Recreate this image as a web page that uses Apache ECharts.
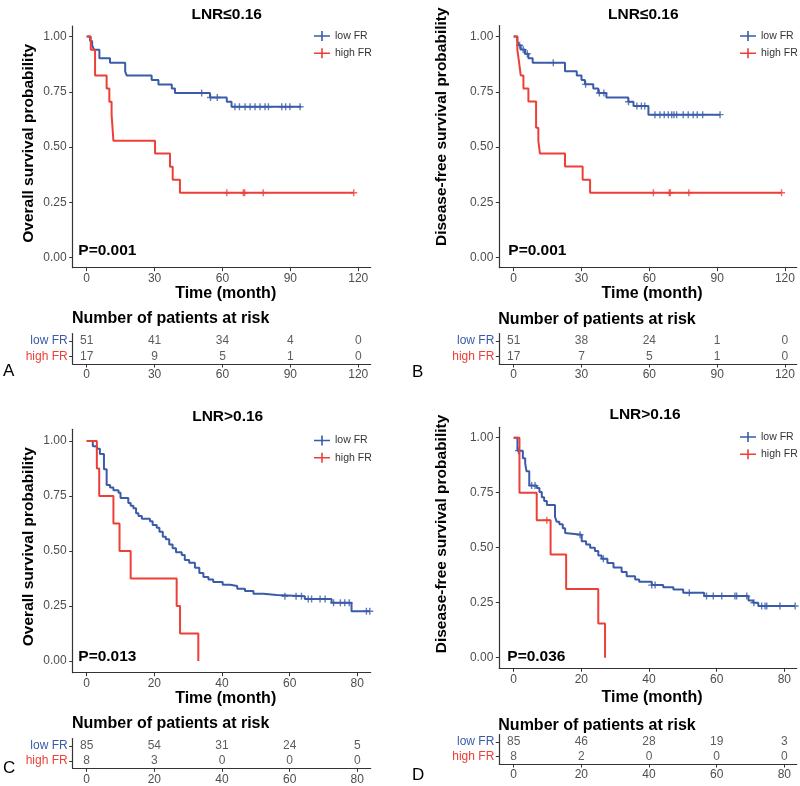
<!DOCTYPE html>
<html><head><meta charset="utf-8">
<script src="https://cdn.jsdelivr.net/npm/echarts@6/dist/echarts.min.js"></script>
<style>html,body{margin:0;padding:0;background:#fff}#c{width:800px;height:786px}</style>
</head><body><div id="c"></div>
<script>
// ---------- DATA ----------
// Panel A: LNR<=0.16, overall survival  [time (month), survival]
const A_low_steps = [[0,1],[1.5,0.980],[2.4,0.961],[3.2,0.941],[5.6,0.902],[10.3,0.882],[17,0.843],[17.7,0.824],[28.7,0.804],[31.7,0.784],[37.6,0.765],[39,0.745],[54.5,0.725],[61.9,0.705],[64,0.683],[94.7,0.683]];
const A_low_cens = [[50.8,0.745],[54.7,0.725],[57.7,0.725],[65.5,0.683],[67.5,0.683],[70,0.683],[72.2,0.683],[74.4,0.683],[76.6,0.683],[78.8,0.683],[80.3,0.683],[86.2,0.683],[87.9,0.683],[89.8,0.683],[94.3,0.683]];
const A_high_steps = [[0,1],[1.8,0.941],[3.7,0.824],[8.8,0.765],[10,0.706],[11,0.647],[11.8,0.529],[30.2,0.471],[36.8,0.412],[38,0.353],[41.2,0.294],[118,0.294]];
const A_high_cens = [[61.9,0.294],[69.2,0.294],[69.8,0.294],[78,0.294],[118,0.294]];
const A_times = [0,30,60,90,120];
const A_risk_low = [51,41,34,4,0];
const A_risk_high = [17,9,5,1,0];

// Panel B: LNR<=0.16, disease-free survival
const B_low_steps = [[0,1],[1.6,0.980],[2.2,0.961],[3.1,0.941],[5,0.922],[6.5,0.902],[8.4,0.882],[22.7,0.843],[27.9,0.824],[30,0.804],[31.5,0.784],[35.2,0.765],[37.4,0.745],[41,0.725],[50.7,0.705],[53,0.686],[59.6,0.647],[91.3,0.647]];
const B_low_cens = [[2.6,0.961],[4.2,0.941],[6,0.922],[17.5,0.882],[31.8,0.784],[37.9,0.745],[39.9,0.745],[50.8,0.705],[54.5,0.686],[56.5,0.686],[58,0.686],[62.5,0.647],[64.7,0.647],[66.6,0.647],[68.4,0.647],[69.9,0.647],[70.9,0.647],[72.1,0.647],[75,0.647],[77.2,0.647],[79.4,0.647],[81.2,0.647],[83.6,0.647],[91.3,0.647]];
const B_high_steps = [[0,1],[1.6,0.941],[2.4,0.882],[3.1,0.824],[4.3,0.765],[6.5,0.706],[9.9,0.588],[10.9,0.529],[11.6,0.471],[22.7,0.412],[30.5,0.353],[33.8,0.294],[118.5,0.294]];
const B_high_cens = [[61.8,0.294],[68.8,0.294],[69.3,0.294],[77.5,0.294],[118.5,0.294]];
const B_times = [0,30,60,90,120];
const B_risk_low = [51,38,24,1,0];
const B_risk_high = [17,7,5,1,0];

// Panel C: LNR>0.16, overall survival
const C_low_steps = [[0,1],[1.8,0.976],[3,0.965],[3.9,0.941],[5.1,0.871],[5.9,0.800],[6.9,0.788],[7.9,0.776],[9.4,0.765],[10,0.741],[12.3,0.718],[13,0.706],[13.8,0.694],[14.6,0.671],[15.3,0.659],[16.3,0.647],[18.7,0.635],[19.5,0.618],[20.7,0.606],[21.5,0.588],[22.5,0.565],[23.4,0.553],[24.4,0.529],[25.4,0.512],[26.4,0.494],[28.1,0.482],[29,0.459],[30.3,0.447],[32,0.424],[33.3,0.400],[34.5,0.382],[36,0.371],[37.4,0.359],[40.2,0.347],[42.4,0.341],[44.5,0.329],[46.8,0.318],[49.3,0.306],[52.2,0.300],[56.2,0.294],[64.5,0.282],[72.4,0.265],[78.3,0.226],[83.7,0.226]];
const C_low_cens = [[58.6,0.294],[61.9,0.294],[63.5,0.294],[65.5,0.282],[66.5,0.282],[69,0.282],[70.5,0.282],[73,0.265],[75,0.265],[76.3,0.265],[77.6,0.265],[82.7,0.226],[83.7,0.226]];
const C_high_steps = [[0,1],[3,0.875],[3.7,0.75],[7.9,0.625],[9.7,0.5],[13,0.375],[26.6,0.25],[27.6,0.125],[33,0]];
const C_high_cens = [];
const C_times = [0,20,40,60,80];
const C_risk_low = [85,54,31,24,5];
const C_risk_high = [8,3,0,0,0];

// Panel D: LNR>0.16, disease-free survival
const D_low_steps = [[0,1],[1.1,0.941],[2.7,0.906],[3.4,0.882],[3.8,0.847],[4.6,0.782],[6.8,0.771],[7.6,0.753],[8.3,0.729],[9,0.712],[9.8,0.694],[12.2,0.641],[12.7,0.618],[13.5,0.606],[14.5,0.588],[15.2,0.567],[15.7,0.559],[20.1,0.529],[21.4,0.515],[22.6,0.5],[24,0.485],[25,0.465],[26,0.45],[27.7,0.43],[29.5,0.41],[31.9,0.39],[33.4,0.37],[35.9,0.355],[37.1,0.345],[40.8,0.33],[44.2,0.32],[47.2,0.31],[50.1,0.295],[56.3,0.28],[69.4,0.26],[70.8,0.25],[72.3,0.235],[83.2,0.235]];
const D_low_cens = [[1.4,0.941],[5.3,0.782],[6.3,0.782],[19.6,0.559],[26.5,0.45],[40.8,0.33],[41.8,0.33],[51.9,0.295],[57,0.28],[59,0.28],[61.5,0.28],[65.4,0.28],[65.9,0.28],[68.9,0.28],[71,0.25],[73.3,0.235],[74.3,0.235],[74.8,0.235],[78.7,0.235],[83.2,0.235]];
const D_high_steps = [[0,1],[1.7,0.75],[6.8,0.625],[10.9,0.469],[15.5,0.3125],[25,0.156],[27,0]];
const D_high_cens = [[9.8,0.625]];
const D_times = [0,20,40,60,80];
const D_risk_low = [85,46,28,19,3];
const D_risk_high = [8,2,0,0,0];

const yTicks = [0,0.25,0.5,0.75,1];
const groups = ['high FR','low FR'];

// ---------- STYLE / LAYOUT ----------
const FONT = '"Liberation Sans", Arial, sans-serif';
const BLUE = '#3A5BA8', RED = '#EC3F37';
const AX = '#333333', LBL = '#4D4D4D';
const CROSS = 'path://M3.2,0h1.6v8h-1.6z M0,3.2h8v1.6h-8z';
const LEGICON = 'path://M0,4.2h16v1.6h-16z M7.2,0h1.6v10h-1.6z';

const panels = [
  {low:A_low_steps, lowC:A_low_cens, high:A_high_steps, highC:A_high_cens, times:A_times, rLow:A_risk_low, rHigh:A_risk_high,
   grid:{left:72.7,top:26,width:298,height:241.7}, rgrid:{left:72.7,top:333.5,width:298,height:30.5},
   xr:[-6.19,125.5], yr:[-0.045,1.048], nameGap:15,
   title:'LNR≤0.16', tx:226.7, ty:15, ytitle:'Overall survival probability', ytx:28.3, yty:143.3,
   p:'P=0.001', px:78.3, py:250.7, rt:[72,319], letter:'A', lx:3, ly:371, leg:[314,30.5]},
  {low:B_low_steps, lowC:B_low_cens, high:B_high_steps, highC:B_high_cens, times:B_times, rLow:B_risk_low, rHigh:B_risk_high,
   grid:{left:499.3,top:25.5,width:297.4,height:242.2}, rgrid:{left:499.3,top:333.5,width:297.4,height:30.5},
   xr:[-6.37,125.2], yr:[-0.045,1.05], nameGap:15,
   title:'LNR≤0.16', tx:643.3, ty:15, ytitle:'Disease-free survival probability', ytx:441.7, yty:126.7,
   p:'P=0.001', px:508.3, py:250.7, rt:[498.3,319.3], letter:'B', lx:412, ly:372, leg:[740,30.5]},
  {low:C_low_steps, lowC:C_low_cens, high:C_high_steps, highC:C_high_cens, times:C_times, rLow:C_risk_low, rHigh:C_risk_high,
   grid:{left:72.7,top:429.3,width:298,height:243.4}, rgrid:{left:72.7,top:738.5,width:298,height:29.8},
   xr:[-4.14,83.97], yr:[-0.053,1.053], nameGap:15,
   title:'LNR>0.16', tx:227.7, ty:416.7, ytitle:'Overall survival probability', ytx:28.3, yty:546.7,
   p:'P=0.013', px:78.3, py:656.7, rt:[72,724], letter:'C', lx:3, ly:768.5, leg:[314,435]},
  {low:D_low_steps, lowC:D_low_cens, high:D_high_steps, highC:D_high_cens, times:D_times, rLow:D_risk_low, rHigh:D_risk_high,
   grid:{left:499.3,top:427.3,width:297.4,height:241}, rgrid:{left:499.3,top:734.5,width:297.4,height:29.5},
   xr:[-4.26,83.66], yr:[-0.048,1.047], nameGap:21,
   title:'LNR>0.16', tx:645, ty:415, ytitle:'Disease-free survival probability', ytx:441.7, yty:534,
   p:'P=0.036', px:507.3, py:656.7, rt:[498.3,725.7], letter:'D', lx:412, ly:775, leg:[740,431.5]}
];

const grid = [], xAxis = [], yAxis = [], series = [], legend = [], graphic = [];
const axLine = {show:true, onZero:false, lineStyle:{color:AX, width:1.2}};
const axTick = (vals) => ({show:true, length:3.5, customValues:vals, lineStyle:{color:AX, width:1}});

panels.forEach((p, i) => {
  const gi = 2*i, ri = 2*i+1;
  grid.push(Object.assign({containLabel:false}, p.grid));
  grid.push(Object.assign({containLabel:false}, p.rgrid));
  // plot axes
  xAxis.push({type:'value', gridIndex:gi, min:p.xr[0], max:p.xr[1], axisLine:axLine, axisTick:axTick(p.times),
    splitLine:{show:false},
    axisLabel:{customValues:p.times, fontSize:12, color:LBL, fontFamily:FONT, margin:5},
    name:'Time (month)', nameLocation:'middle', nameGap:p.nameGap,
    nameTextStyle:{fontSize:16, fontWeight:'bold', color:'#000', fontFamily:FONT, padding:[0,0,0,8]}});
  yAxis.push({type:'value', gridIndex:gi, min:p.yr[0], max:p.yr[1], axisLine:axLine, axisTick:axTick(yTicks),
    splitLine:{show:false},
    axisLabel:{customValues:yTicks, formatter:v=>v.toFixed(2), fontSize:12, color:LBL, fontFamily:FONT, margin:6}});
  // risk-table axes
  xAxis.push({type:'value', gridIndex:ri, min:p.xr[0], max:p.xr[1], axisLine:axLine, axisTick:axTick(p.times),
    splitLine:{show:false},
    axisLabel:{customValues:p.times, fontSize:12, color:LBL, fontFamily:FONT, margin:5}});
  yAxis.push({type:'category', gridIndex:ri, data:groups, axisLine:axLine,
    axisTick:{show:true, length:3.5, alignWithLabel:true, interval:0, lineStyle:{color:AX}},
    axisLabel:{fontSize:12, fontFamily:FONT, margin:5, interval:0, hideOverlap:false, color:(v)=> v==='low FR'?BLUE:RED}});

  // curves
  series.push({name:'low FR', type:'line', step:'end', xAxisIndex:gi, yAxisIndex:gi, data:p.low, showSymbol:false,
    lineStyle:{color:BLUE, width:2}, itemStyle:{color:BLUE}, z:2});
  series.push({name:'low FR', type:'scatter', xAxisIndex:gi, yAxisIndex:gi, data:p.lowC, symbol:CROSS, symbolSize:7,
    itemStyle:{color:BLUE}, z:3});
  series.push({name:'high FR', type:'line', step:'end', xAxisIndex:gi, yAxisIndex:gi, data:p.high, showSymbol:false,
    lineStyle:{color:RED, width:2}, itemStyle:{color:RED}, z:4});
  series.push({name:'high FR', type:'scatter', xAxisIndex:gi, yAxisIndex:gi, data:p.highC, symbol:CROSS, symbolSize:7,
    itemStyle:{color:RED}, z:5});
  // risk numbers
  const riskData = p.times.map((t,j)=>[t,'low FR',p.rLow[j]]).concat(p.times.map((t,j)=>[t,'high FR',p.rHigh[j]]));
  series.push({name:'risk'+i, type:'scatter', xAxisIndex:ri, yAxisIndex:ri, data:riskData, symbolSize:1,
    itemStyle:{color:'rgba(0,0,0,0)'}, silent:true,
    label:{show:true, position:'inside', formatter:(q)=>String(q.value[2]), fontSize:12, color:'#333', fontFamily:FONT}});

  legend.push({left:p.leg[0], top:p.leg[1], orient:'vertical', itemGap:6.3, itemWidth:16, itemHeight:10,
    selectedMode:false, padding:0,
    data:[{name:'low FR', icon:LEGICON},{name:'high FR', icon:LEGICON}],
    textStyle:{fontSize:10.5, color:'#333', fontFamily:FONT}});

  graphic.push({type:'text', x:p.tx, y:p.ty, style:{text:p.title, fill:'#000', font:'bold 15.5px '+FONT,
    textAlign:'center', textVerticalAlign:'middle', align:'center', verticalAlign:'middle'}});
  graphic.push({type:'text', x:p.ytx, y:p.yty, rotation:Math.PI/2, style:{text:p.ytitle, fill:'#000', font:'bold 15.5px '+FONT,
    textAlign:'center', textVerticalAlign:'middle', align:'center', verticalAlign:'middle'}});
  graphic.push({type:'text', x:p.px, y:p.py, style:{text:p.p, fill:'#000', font:'bold 15.5px '+FONT,
    textAlign:'left', textVerticalAlign:'middle', align:'left', verticalAlign:'middle'}});
  graphic.push({type:'text', x:p.rt[0], y:p.rt[1], style:{text:'Number of patients at risk', fill:'#000', font:'bold 16px '+FONT,
    textAlign:'left', textVerticalAlign:'middle', align:'left', verticalAlign:'middle'}});
  graphic.push({type:'text', x:p.lx, y:p.ly, style:{text:p.letter, fill:'#000', font:'17px '+FONT,
    textAlign:'left', textVerticalAlign:'middle', align:'left', verticalAlign:'middle'}});
});

const chart = echarts.init(document.getElementById('c'), null, {renderer:'canvas'});
chart.setOption({animation:false, backgroundColor:'#fff', textStyle:{fontFamily:FONT},
  grid, xAxis, yAxis, series, legend, graphic});
</script></body></html>
